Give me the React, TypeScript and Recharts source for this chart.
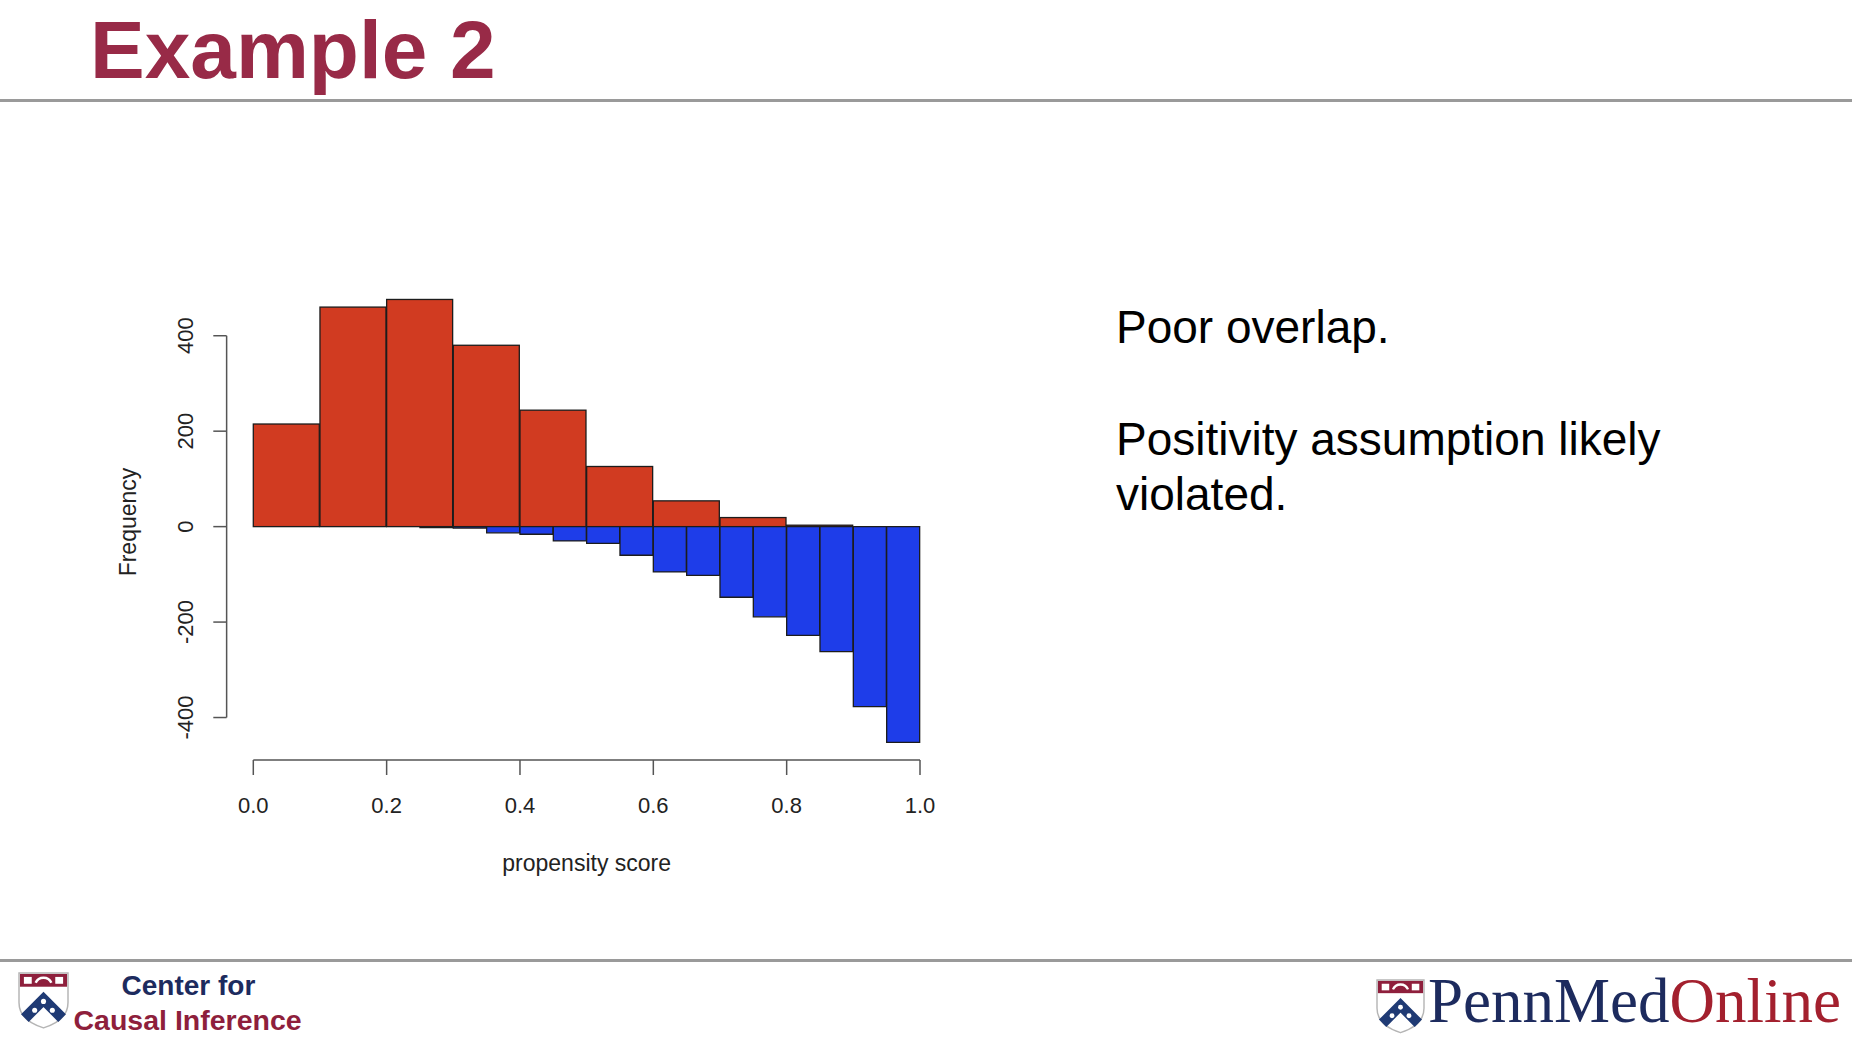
import React from 'react';
import { BarChart, Bar, XAxis, YAxis, ReferenceLine } from 'recharts';

// 0.05-wide bins (blue histogram); red histogram uses 0.1-wide bins
const binLabels = [
    '0.00', '0.05', '0.10', '0.15', '0.20', '0.25', '0.30', '0.35', '0.40', '0.45',
    '0.50', '0.55', '0.60', '0.65', '0.70', '0.75', '0.80', '0.85', '0.90', '0.95',
];
const controlCounts = [215, 460, 476, 380, 244, 126, 54, 19, 3, 0];
const treatedCounts = [0, 0, 0, 0, 0, 2, 3, 13, 16, 30, 35, 60, 95, 102, 148, 189, 228, 262, 377, 452];
const scoreTicks = [0, 0.2, 0.4, 0.6, 0.8, 1.0];
const freqTicks = [-400, -200, 0, 200, 400];

const data = binLabels.map((bin, i) => ({
    bin,
    binStart: parseFloat(bin),
    control: i % 2 === 0 ? controlCounts[i / 2] : null,
    treated: -treatedCounts[i],
}));

const SANS = '"Liberation Sans", Arial, sans-serif';
const RED = '#d13b21';
const BLUE = '#1e3de9';
const EDGE = '#1c1c1c';
const AXIS = '#555';
const MAROON = '#982a47';
const NAVY = '#1d2b5e';

// red bins are twice as wide as the blue ones, so each even slot spans two bands
const WideBin = (props: any) => {
    const { x, y, width, height, payload } = props;
    if (!payload || !payload.control || !height) return null;
    return <rect x={x} y={y} width={width * 2} height={height} fill={RED} stroke={EDGE} strokeWidth={1.3} />;
};

const FreqTick = (props: any) => {
    const { x, y, payload } = props;
    const tx = x - 68;
    return (
        <g>
            <line x1={x - 40} x2={x - 26.7} y1={y} y2={y} stroke={AXIS} strokeWidth={1.5} />
            <text x={tx} y={y} transform={`rotate(-90 ${tx} ${y})`} textAnchor="middle" dominantBaseline="central"
                fill="#222" fontSize={22} fontFamily={SANS}>
                {payload.value}
            </text>
        </g>
    );
};

const freqLabel = (props: any) => {
    const vb = props.viewBox;
    const cx = vb.x + 128.3;
    const cy = vb.y + vb.height / 2 - 2;
    return (
        <text x={cx} y={cy} transform={`rotate(-90 ${cx} ${cy})`} textAnchor="middle" dominantBaseline="central"
            fill="#222" fontSize={23} fontFamily={SANS}>
            Frequency
        </text>
    );
};

const scoreLabel = (props: any) => {
    const vb = props.viewBox;
    return (
        <text x={vb.x + vb.width / 2} y={vb.y + 103} textAnchor="middle" dominantBaseline="central"
            fill="#222" fontSize={23} fontFamily={SANS}>
            propensity score
        </text>
    );
};

const Shield = ({ x, y, s }: { x: number; y: number; s: number }) => (
    <g transform={`translate(${x} ${y}) scale(${s})`}>
        <path d="M0 0 H50 V30 C50 45 38 52 25 56 C12 52 0 45 0 30 Z" fill="#fff" stroke="#b5b5b5" strokeWidth={1.5} />
        <rect x={1} y={1} width={48} height={13} fill="#8e1f3c" />
        <rect x={5} y={4} width={8} height={7} fill="#fff" />
        <rect x={37} y={4} width={8} height={7} fill="#fff" />
        <path d="M17 10 C20 3 30 3 33 10" stroke="#fff" strokeWidth={2.5} fill="none" />
        <polyline points="6,46 25,27 44,46" fill="none" stroke="#1f3a74" strokeWidth={11} strokeLinejoin="miter" />
        <circle cx={16} cy={38} r={2.6} fill="#fff" />
        <circle cx={25} cy={29} r={2.6} fill="#fff" />
        <circle cx={34} cy={38} r={2.6} fill="#fff" />
    </g>
);

export default function App() {
    return (
        <div style={{ position: 'fixed', left: 0, top: 0, width: 1852, height: 1040, background: '#fff', overflow: 'hidden' }}>
            <svg width={1852} height={1040} style={{ position: 'absolute', left: 0, top: 0 }}>
                <text x={90} y={78} fill={MAROON} fontSize={82} fontWeight="bold" fontFamily={SANS}>Example 2</text>
                <line x1={0} x2={1852} y1={100.5} y2={100.5} stroke="#9a9a9a" strokeWidth={3} />

                <text x={1116} y={343} fill="#000" fontSize={46} fontFamily={SANS}>Poor overlap.</text>
                <text x={1116} y={455} fill="#000" fontSize={46} fontFamily={SANS}>Positivity assumption likely</text>
                <text x={1116} y={510} fill="#000" fontSize={46} fontFamily={SANS}>violated.</text>

                <line x1={0} x2={1852} y1={960.5} y2={960.5} stroke="#9a9a9a" strokeWidth={3} />
                <Shield x={19} y={973} s={0.98} />
                <text x={121.5} y={995} fill={NAVY} fontSize={28} fontWeight="bold" fontFamily={SANS}>Center for</text>
                <text x={73.5} y={1030} fill="#8e1f3c" fontSize={28.5} fontWeight="bold" fontFamily={SANS}>Causal Inference</text>

                <Shield x={1377} y={980} s={0.94} />
                <text x={1428} y={1022} fontSize={63} fontFamily='"Liberation Serif", "Times New Roman", serif'>
                    <tspan fill={NAVY}>PennMed</tspan>
                    <tspan fill="#a3202e">Online</tspan>
                </text>
            </svg>

            <div style={{ position: 'absolute', left: 0, top: 0 }}>
                <BarChart width={1000} height={900} data={data} margin={{ top: 288, right: 80, left: 0, bottom: 0 }}
                    barCategoryGap={0} barGap={0} stackOffset="sign">
                    <XAxis xAxisId="bins" dataKey="bin" hide height={0} />
                    <XAxis xAxisId="score" type="number" dataKey="binStart" domain={[0, 1]} allowDataOverflow
                        ticks={scoreTicks} interval={0} height={140}
                        tickFormatter={(v: number) => v.toFixed(1)}
                        axisLine={{ stroke: AXIS, strokeWidth: 1.5 }} tickLine={{ stroke: AXIS, strokeWidth: 1.5 }}
                        tickSize={15} tickMargin={22}
                        tick={{ fill: '#222', fontSize: 22, fontFamily: SANS }}
                        label={scoreLabel} />
                    <YAxis domain={[-489, 500]} allowDataOverflow ticks={freqTicks} interval={0} width={253.3}
                        axisLine={false} tickLine={false} tickSize={0} tickMargin={0}
                        tick={<FreqTick />} label={freqLabel} />
                    <ReferenceLine xAxisId="score" ifOverflow="visible" stroke={AXIS} strokeWidth={1.5}
                        segment={[{ x: -0.04, y: freqTicks[0] }, { x: -0.04, y: freqTicks[freqTicks.length - 1] }]} />
                    <Bar xAxisId="bins" dataKey="control" stackId="ps" fill={RED} shape={<WideBin />} isAnimationActive={false} />
                    <Bar xAxisId="bins" dataKey="treated" stackId="ps" fill={BLUE} stroke={EDGE} strokeWidth={1.3}
                        isAnimationActive={false} />
                </BarChart>
            </div>
        </div>
    );
}
